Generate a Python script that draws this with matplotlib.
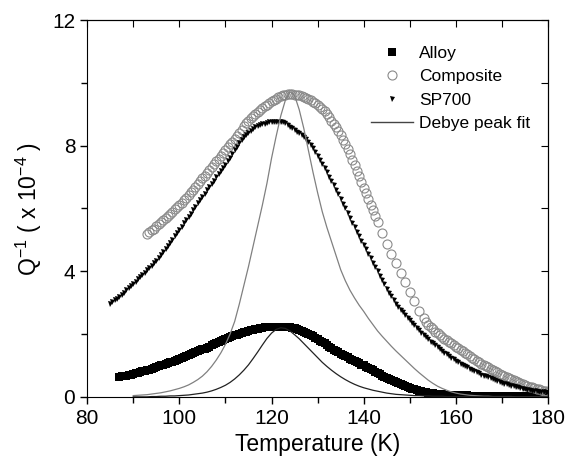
import numpy as np
import matplotlib
matplotlib.use("Agg")
import matplotlib.pyplot as plt
from matplotlib.ticker import MultipleLocator

plt.rcParams['font.family'] = ['Liberation Sans', 'DejaVu Sans']
plt.rcParams['mathtext.default'] = 'regular'

# --- data (Q^-1 in units of 1e-4), 0.5 K steps ---
alloy_q = [0.64, 0.65, 0.67, 0.68, 0.70, 0.71, 0.73, 0.75, 0.77, 0.79,
           0.81, 0.83, 0.85, 0.87, 0.90, 0.92, 0.95, 0.97, 1.00, 1.02,
           1.05, 1.07, 1.10, 1.12, 1.15, 1.18, 1.21, 1.24, 1.27, 1.30,
           1.33, 1.36, 1.39, 1.42, 1.45, 1.48, 1.51, 1.54, 1.57, 1.60,
           1.64, 1.67, 1.71, 1.74, 1.78, 1.81, 1.84, 1.87, 1.90, 1.93,
           1.96, 1.98, 2.01, 2.03, 2.06, 2.08, 2.10, 2.12, 2.14, 2.15,
           2.17, 2.18, 2.20, 2.21, 2.22, 2.22, 2.23, 2.23, 2.24, 2.24,
           2.24, 2.23, 2.23, 2.22, 2.21, 2.19, 2.18, 2.16, 2.14, 2.11,
           2.08, 2.05, 2.01, 1.97, 1.93, 1.88, 1.84, 1.79, 1.75, 1.70,
           1.65, 1.60, 1.55, 1.50, 1.46, 1.42, 1.38, 1.34, 1.30, 1.26,
           1.22, 1.18, 1.14, 1.10, 1.07, 1.03, 1.00, 0.96, 0.92, 0.88,
           0.84, 0.80, 0.76, 0.72, 0.68, 0.64, 0.60, 0.56, 0.53, 0.49,
           0.46, 0.43, 0.40, 0.37, 0.34, 0.31, 0.29, 0.26, 0.24, 0.22,
           0.20, 0.18, 0.16, 0.14, 0.13, 0.12, 0.11, 0.10, 0.09, 0.08,
           0.08, 0.07, 0.07, 0.06, 0.06, 0.06, 0.05, 0.05, 0.05, 0.05,
           0.05, 0.05, 0.04, 0.04, 0.04, 0.04, 0.04, 0.04, 0.04, 0.04,
           0.03, 0.03, 0.03, 0.03, 0.03, 0.03, 0.03, 0.03, 0.03, 0.03,
           0.03, 0.03, 0.02, 0.02, 0.02, 0.02, 0.02, 0.02, 0.02, 0.02,
           0.02, 0.02, 0.02, 0.02, 0.02, 0.02, 0.02]
alloy_T = 87 + 0.5 * np.arange(len(alloy_q))

# composite: 0.5 K steps, sparser (1 K) through the steep fall
comp_T = np.concatenate([np.arange(93, 143, 0.5), np.arange(143, 153, 1.0),
                         np.arange(153, 180.5, 0.5)])
comp_q = [5.20, 5.25, 5.30, 5.36, 5.43, 5.50, 5.57, 5.63, 5.70, 5.76,
          5.83, 5.90, 5.97, 6.04, 6.12, 6.19, 6.27, 6.35, 6.43, 6.51,
          6.60, 6.69, 6.78, 6.87, 6.96, 7.05, 7.14, 7.23, 7.32, 7.41,
          7.50, 7.59, 7.68, 7.77, 7.86, 7.95, 8.04, 8.13, 8.22, 8.31,
          8.40, 8.51, 8.62, 8.71, 8.80, 8.88, 8.95, 9.02, 9.08, 9.14,
          9.20, 9.26, 9.31, 9.36, 9.41, 9.46, 9.50, 9.54, 9.57, 9.60,
          9.63, 9.64, 9.65, 9.64, 9.63, 9.62, 9.60, 9.58, 9.55, 9.52,
          9.48, 9.44, 9.40, 9.35, 9.30, 9.24, 9.18, 9.09, 9.00, 8.90,
          8.80, 8.69, 8.58, 8.46, 8.33, 8.19, 8.05, 7.89, 7.72, 7.55,
          7.38, 7.20, 7.02, 6.84, 6.66, 6.48, 6.30, 6.12, 5.94, 5.76,
          5.58, 5.22, 4.88, 4.56, 4.25, 3.95, 3.65, 3.35, 3.05, 2.75,
          2.50, 2.40, 2.30, 2.22, 2.15, 2.08, 2.02, 1.96, 1.90, 1.85,
          1.80, 1.75, 1.70, 1.65, 1.60, 1.55, 1.50, 1.45, 1.40, 1.35,
          1.30, 1.25, 1.20, 1.15, 1.10, 1.06, 1.02, 0.98, 0.94, 0.90,
          0.86, 0.82, 0.78, 0.74, 0.70, 0.66, 0.63, 0.59, 0.56, 0.53,
          0.50, 0.47, 0.44, 0.41, 0.38, 0.35, 0.33, 0.30, 0.28, 0.26,
          0.24, 0.22, 0.20, 0.18, 0.17]

sp_q = [2.95, 3.01, 3.07, 3.13, 3.19, 3.25, 3.32, 3.39, 3.46, 3.53,
        3.60, 3.67, 3.74, 3.81, 3.88, 3.95, 4.03, 4.10, 4.18, 4.26,
        4.34, 4.43, 4.52, 4.61, 4.71, 4.81, 4.91, 5.01, 5.11, 5.21,
        5.32, 5.42, 5.53, 5.63, 5.74, 5.84, 5.95, 6.05, 6.16, 6.26,
        6.37, 6.47, 6.58, 6.68, 6.79, 6.89, 7.00, 7.10, 7.20, 7.30,
        7.40, 7.50, 7.60, 7.72, 7.85, 7.97, 8.08, 8.18, 8.28, 8.35,
        8.42, 8.48, 8.54, 8.58, 8.62, 8.65, 8.68, 8.70, 8.72, 8.74,
        8.75, 8.76, 8.77, 8.77, 8.77, 8.75, 8.72, 8.66, 8.60, 8.55,
        8.50, 8.45, 8.40, 8.34, 8.27, 8.20, 8.12, 8.02, 7.92, 7.80,
        7.68, 7.55, 7.42, 7.28, 7.15, 7.01, 6.88, 6.74, 6.60, 6.45,
        6.30, 6.15, 6.00, 5.85, 5.70, 5.55, 5.40, 5.26, 5.12, 4.98,
        4.85, 4.70, 4.55, 4.41, 4.27, 4.13, 4.00, 3.86, 3.72, 3.58,
        3.45, 3.32, 3.20, 3.08, 2.97, 2.87, 2.78, 2.69, 2.60, 2.52,
        2.45, 2.36, 2.28, 2.20, 2.12, 2.04, 1.97, 1.90, 1.83, 1.76,
        1.70, 1.64, 1.58, 1.52, 1.47, 1.41, 1.36, 1.30, 1.25, 1.20,
        1.15, 1.10, 1.06, 1.02, 0.98, 0.94, 0.90, 0.86, 0.82, 0.78,
        0.75, 0.71, 0.68, 0.65, 0.62, 0.59, 0.56, 0.53, 0.50, 0.47,
        0.45, 0.42, 0.40, 0.38, 0.36, 0.34, 0.32, 0.30, 0.28, 0.26,
        0.25, 0.23, 0.22, 0.20, 0.19, 0.18, 0.17, 0.16, 0.15, 0.14,
        0.13]
sp_T = 85 + 0.5 * np.arange(len(sp_q))

fit_T = np.arange(90, 181)
fit_comp = [0.04, 0.05, 0.06, 0.07, 0.09, 0.11, 0.13, 0.16, 0.19, 0.23,
            0.27, 0.32, 0.38, 0.46, 0.55, 0.66, 0.80, 0.97, 1.17, 1.40,
            1.67, 2.00, 2.40, 2.95, 3.55, 4.15, 4.80, 5.45, 6.10, 6.80,
            7.60, 8.30, 8.95, 9.45, 9.72, 9.60, 9.15, 8.55, 7.85, 7.15,
            6.50, 5.90, 5.40, 4.95, 4.50, 4.05, 3.70, 3.40, 3.15, 2.92,
            2.72, 2.50, 2.30, 2.10, 1.93, 1.77, 1.61, 1.46, 1.32, 1.18,
            1.04, 0.90, 0.77, 0.65, 0.53, 0.43, 0.34, 0.27, 0.21, 0.16,
            0.12, 0.09, 0.07, 0.05, 0.04, 0.03, 0.02, 0.02, 0.01, 0.01,
            0.01, 0.01, 0.01, 0.0, 0.0, 0.0, 0.0, 0.0, 0.0, 0.0, 0.0]
fit_alloy = [0.0, 0.0, 0.0, 0.0, 0.01, 0.01, 0.02, 0.02, 0.03, 0.03,
             0.04, 0.05, 0.06, 0.08, 0.10, 0.12, 0.15, 0.19, 0.24, 0.30,
             0.37, 0.46, 0.57, 0.70, 0.85, 1.02, 1.22, 1.43, 1.65, 1.86,
             2.03, 2.15, 2.20, 2.18, 2.10, 1.98, 1.85, 1.70, 1.55, 1.40,
             1.25, 1.10, 0.97, 0.85, 0.74, 0.64, 0.55, 0.47, 0.40, 0.34,
             0.29, 0.25, 0.21, 0.18, 0.15, 0.12, 0.10, 0.08, 0.07, 0.06,
             0.05, 0.04, 0.04, 0.03, 0.03, 0.02, 0.02, 0.02, 0.01, 0.01,
             0.01, 0.01, 0.01, 0.0, 0.0, 0.0, 0.0, 0.0, 0.0, 0.0, 0.0,
             0.0, 0.0, 0.0, 0.0, 0.0, 0.0, 0.0, 0.0, 0.0, 0.0]

fig = plt.figure(figsize=(5.77, 4.68), dpi=100)
ax = fig.add_axes([0.151, 0.152, 0.799, 0.805])

ax.plot(alloy_T, alloy_q, 's', color='black', ms=5.7, mew=0, label='Alloy')
ax.plot(comp_T, comp_q, 'o', mfc='none', mec='#8a8a8a', mew=0.8, ms=6.5,
        label='Composite')
ax.plot(sp_T, sp_q, 'v', color='black', ms=3.6, mew=0, label='SP700')
ax.plot(fit_T, fit_comp, '-', color='#808080', lw=0.9)
ax.plot(fit_T, fit_alloy, '-', color='#222222', lw=0.9)
ax.plot([], [], '-', color='#444444', lw=1.0, label='Debye peak fit')

ax.set_xlim(80, 180)
ax.set_ylim(0, 12)
ax.xaxis.set_major_locator(MultipleLocator(20))
ax.xaxis.set_minor_locator(MultipleLocator(10))
ax.yaxis.set_major_locator(MultipleLocator(4))
ax.yaxis.set_minor_locator(MultipleLocator(2))
ax.tick_params(which='both', direction='out', labelsize=15, width=1)
ax.tick_params(which='major', length=5)
ax.tick_params(which='minor', length=4)

# inward ticks on the top and right edges
top = ax.secondary_xaxis('top')
top.xaxis.set_major_locator(MultipleLocator(10))
top.tick_params(direction='in', length=5, labeltop=False)
right = ax.secondary_yaxis('right')
right.yaxis.set_major_locator(MultipleLocator(2))
right.tick_params(direction='in', length=5, labelright=False)

ax.set_xlabel('Temperature (K)', fontsize=16.5, labelpad=4)
ax.set_ylabel('Q$^{-1}$ ( x 10$^{-4}$ )', fontsize=16.5, labelpad=6)

ax.legend(loc='upper left', bbox_to_anchor=(0.597, 0.955), frameon=False,
          fontsize=12.5, borderpad=0, handlelength=2.4, handletextpad=0.35,
          labelspacing=0.48, numpoints=1)

fig.savefig('out.png', dpi=100)
